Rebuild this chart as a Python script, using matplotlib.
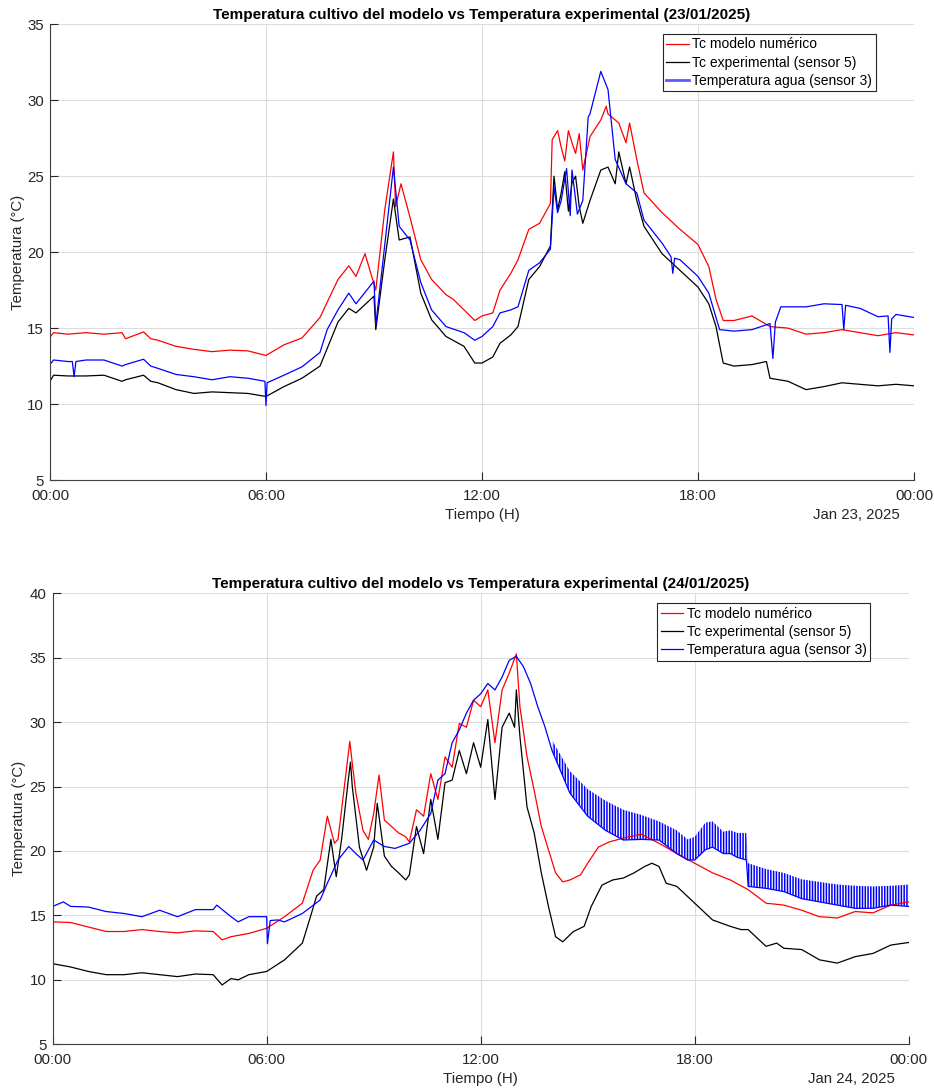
from matplotlib import pyplot as plt
from matplotlib.lines import Line2D

plt.rcParams['font.family'] = ['Liberation Sans', 'DejaVu Sans']
plt.rcParams['hatch.linewidth'] = 1.1

# ---------------- 23/01/2025 ----------------
# horas y temperaturas
t1_modelo = [0, 0.1, 0.5, 1.0, 1.5, 2.0, 2.1, 2.6, 2.8, 3.0, 3.5, 4.0, 4.5, 5.0, 5.5, 6.0,
             6.5, 7.0, 7.5, 8.0, 8.3, 8.5, 8.75, 9.05, 9.3, 9.54, 9.6, 9.75, 10.0, 10.3,
             10.6, 11.0, 11.2, 11.5, 11.8, 12.0, 12.3, 12.5, 12.8, 13.0, 13.3, 13.6, 13.9,
             13.95, 14.1, 14.2, 14.3, 14.4, 14.5, 14.6, 14.7, 14.8, 15.0, 15.3, 15.45, 15.5,
             15.8, 16.0, 16.1, 16.3, 16.5, 17.0, 17.5, 18.0, 18.3, 18.5, 18.7, 19.0, 19.5,
             20.0, 20.5, 21.0, 21.5, 22.0, 22.5, 23.0, 23.5, 24.0]
tc1_modelo = [14.4, 14.7, 14.6, 14.7, 14.6, 14.7, 14.3, 14.75, 14.3, 14.2, 13.8, 13.6, 13.45,
              13.55, 13.5, 13.2, 13.9, 14.35, 15.7, 18.2, 19.1, 18.4, 19.9, 17.5, 22.8,
              26.6, 23.0, 24.5, 22.3, 19.5, 18.2, 17.2, 16.9, 16.2, 15.5, 15.8, 16.0, 17.5,
              18.6, 19.5, 21.5, 21.9, 23.2, 27.4, 28.0, 26.9, 26.0, 28.0, 27.2, 26.5, 27.8,
              25.4, 27.6, 28.7, 29.6, 29.1, 28.5, 27.2, 28.5, 26.1, 23.9, 22.6, 21.5, 20.5,
              19.05, 16.9, 15.5, 15.5, 15.8, 15.1, 15.0, 14.6, 14.7, 14.9, 14.7, 14.5, 14.7,
              14.55]

t1_exp = [0, 0.1, 0.5, 1.0, 1.5, 2.0, 2.1, 2.6, 2.8, 3.0, 3.5, 4.0, 4.5, 5.0, 5.5, 6.0, 6.5,
          7.0, 7.5, 8.0, 8.3, 8.5, 9.0, 9.05, 9.3, 9.54, 9.7, 10.0, 10.3, 10.6, 11.0, 11.5,
          11.8, 12.0, 12.3, 12.5, 12.8, 13.0, 13.3, 13.6, 13.9, 14.0, 14.1, 14.2, 14.3,
          14.4, 14.5, 14.6, 14.7, 14.8, 15.0, 15.3, 15.5, 15.7, 15.8, 16.0, 16.1, 16.3,
          16.5, 17.0, 17.5, 18.0, 18.3, 18.5, 18.7, 19.0, 19.5, 19.9, 20.0, 20.5, 21.0,
          21.5, 22.0, 22.5, 23.0, 23.5, 24.0]
tc1_exp = [11.5, 11.9, 11.85, 11.85, 11.9, 11.5, 11.6, 11.9, 11.5, 11.4, 10.95, 10.7, 10.8,
           10.75, 10.7, 10.5, 11.15, 11.7, 12.5, 15.4, 16.3, 16.0, 17.1, 14.9, 19.5, 23.5,
           20.8, 21.0, 17.3, 15.55, 14.45, 13.8, 12.7, 12.7, 13.1, 14.0, 14.55, 15.1, 18.2,
           19.05, 20.4, 25.0, 22.8, 23.9, 25.3, 22.7, 24.55, 25.0, 23.0, 21.9, 23.4, 25.4,
           25.6, 24.5, 26.6, 24.5, 25.6, 23.4, 21.7, 19.9, 18.8, 17.7, 16.6, 15.1, 12.7,
           12.5, 12.6, 12.8, 11.7, 11.5, 10.95, 11.15, 11.4, 11.3, 11.2, 11.3, 11.2]

t1_agua = [0, 0.1, 0.5, 0.62, 0.67, 0.72, 1.0, 1.5, 2.0, 2.1, 2.6, 2.8, 3.0, 3.5, 4.0, 4.5,
           5.0, 5.5, 5.97, 6.0, 6.03, 6.5, 7.0, 7.5, 7.7, 8.0, 8.3, 8.5, 9.0, 9.05, 9.3,
           9.54, 9.7, 10.0, 10.3, 10.6, 11.0, 11.5, 11.8, 12.0, 12.3, 12.5, 12.8, 13.0,
           13.3, 13.6, 13.9, 14.0, 14.1, 14.2, 14.35, 14.45, 14.5, 14.65, 14.8, 14.95, 15.0,
           15.3, 15.5, 15.7, 16.0, 16.3, 16.5, 17.0, 17.25, 17.3, 17.35, 17.5, 18.0, 18.3,
           18.6, 19.0, 19.5, 20.0, 20.08, 20.15, 20.3, 21.0, 21.5, 22.0, 22.05, 22.1, 22.5,
           23.0, 23.28, 23.33, 23.38, 23.5, 24.0]
tc1_agua = [12.6, 12.9, 12.8, 12.8, 11.8, 12.8, 12.9, 12.9, 12.5, 12.6, 12.95, 12.5, 12.35,
            11.95, 11.8, 11.6, 11.8, 11.7, 11.5, 9.9, 11.4, 11.9, 12.45, 13.4, 14.9, 16.2,
            17.3, 16.6, 18.1, 15.2, 20.5, 25.6, 21.7, 20.8, 18.0, 16.2, 15.1, 14.7, 14.2,
            14.45, 15.1, 16.0, 16.2, 16.4, 18.8, 19.3, 20.2, 24.3, 22.6, 23.4, 25.5, 22.4,
            25.4, 22.5, 23.4, 28.9, 29.1, 31.9, 30.7, 26.1, 24.5, 23.9, 22.1, 20.6, 19.7,
            18.6, 19.6, 19.5, 18.4, 17.3, 14.9, 14.8, 14.9, 15.3, 13.0, 15.4, 16.4, 16.4,
            16.6, 16.55, 14.9, 16.5, 16.3, 15.75, 15.8, 13.4, 15.6, 15.9, 15.7]

# ---------------- 24/01/2025 ----------------
t2_modelo = [0, 0.5, 1.0, 1.5, 2.0, 2.5, 3.0, 3.5, 4.0, 4.5, 4.75, 5.0, 5.5, 6.0, 6.5, 7.0,
             7.3, 7.5, 7.7, 7.9, 8.0, 8.2, 8.33, 8.4, 8.5, 8.7, 8.85, 9.0, 9.15, 9.3, 9.5,
             9.7, 9.9, 10.0, 10.2, 10.4, 10.6, 10.8, 11.0, 11.2, 11.4, 11.6, 11.8, 12.0,
             12.2, 12.4, 12.6, 12.8, 13.0, 13.1, 13.3, 13.5, 13.7, 13.9, 14.1, 14.3, 14.5,
             14.8, 15.0, 15.3, 15.6, 16.0, 16.5, 17.0, 17.5, 18.0, 18.5, 19.0, 19.5, 20.0,
             20.5, 21.0, 21.5, 22.0, 22.5, 23.0, 23.5, 24.0]
tc2_modelo = [14.5, 14.45, 14.1, 13.75, 13.75, 13.9, 13.75, 13.65, 13.8, 13.75, 13.1, 13.35,
              13.6, 14.0, 14.9, 15.95, 18.5, 19.3, 22.7, 20.6, 20.9, 25.5, 28.5, 26.8, 24.5,
              21.6, 20.9, 22.9, 25.9, 22.4, 21.9, 21.4, 21.1, 20.7, 23.2, 22.7, 26.0, 24.0,
              27.3, 26.5, 29.9, 29.6, 31.7, 31.2, 32.5, 28.4, 32.5, 33.8, 35.3, 31.2, 27.3,
              24.7, 21.9, 20.1, 18.3, 17.6, 17.75, 18.15, 19.05, 20.3, 20.7, 21.0, 21.3,
              20.6, 19.8, 19.05, 18.3, 17.75, 17.0, 15.95, 15.8, 15.4, 14.9, 14.8, 15.3,
              15.2, 15.8, 16.05]

t2_exp = [0, 0.5, 1.0, 1.5, 2.0, 2.5, 3.0, 3.5, 4.0, 4.5, 4.75, 5.0, 5.2, 5.5, 6.0, 6.5, 7.0,
          7.2, 7.4, 7.6, 7.8, 7.95, 8.1, 8.3, 8.35, 8.4, 8.6, 8.8, 9.0, 9.1, 9.3, 9.5, 9.7,
          9.9, 10.0, 10.2, 10.4, 10.6, 10.8, 11.0, 11.2, 11.4, 11.6, 11.8, 12.0, 12.2, 12.4,
          12.6, 12.8, 12.95, 13.0, 13.1, 13.3, 13.5, 13.7, 13.9, 14.1, 14.3, 14.6, 14.9,
          15.1, 15.4, 15.7, 16.0, 16.3, 16.6, 16.8, 17.0, 17.2, 17.5, 18.0, 18.5, 19.0,
          19.3, 19.5, 20.0, 20.3, 20.5, 21.0, 21.5, 22.0, 22.5, 23.0, 23.5, 24.0]
tc2_exp = [11.25, 11.0, 10.65, 10.4, 10.4, 10.55, 10.4, 10.25, 10.45, 10.4, 9.6, 10.1, 10.0,
           10.4, 10.65, 11.55, 12.85, 14.65, 16.5, 17.0, 20.9, 18.0, 20.9, 25.8, 26.9, 25.0,
           20.3, 18.5, 20.3, 23.7, 19.6, 18.8, 18.3, 17.75, 18.15, 21.9, 19.8, 24.0, 20.9,
           25.3, 25.5, 27.8, 26.0, 28.4, 26.5, 30.2, 24.0, 29.6, 30.7, 29.6, 32.5, 28.9,
           23.4, 21.4, 18.3, 15.7, 13.35, 12.95, 13.75, 14.15, 15.7, 17.35, 17.75, 17.9,
           18.3, 18.8, 19.05, 18.8, 17.5, 17.25, 15.95, 14.65, 14.15, 13.9, 13.9, 12.6,
           12.85, 12.45, 12.35, 11.55, 11.3, 11.8, 12.05, 12.7, 12.9]

t2_agua = [0, 0.3, 0.5, 1.0, 1.5, 2.0, 2.5, 3.0, 3.5, 4.0, 4.5, 4.6, 5.0, 5.2, 5.5, 6.0,
           6.02, 6.1, 6.3, 6.5, 7.0, 7.5, 7.7, 8.0, 8.3, 8.5, 8.7, 9.0, 9.3, 9.6, 10.0,
           10.3, 10.6, 10.8, 11.0, 11.2, 11.4, 11.6, 11.8, 12.0, 12.2, 12.4, 12.6, 12.8,
           13.0, 13.2, 13.4, 13.6, 13.8, 14.0, 14.5, 15.0, 15.5, 16.0, 16.5, 17.0, 17.5,
           17.8, 18.0, 18.3, 18.5, 18.8, 19.0, 19.2, 19.45, 19.5, 20.0, 20.5, 21.0, 21.5,
           22.0, 22.5, 23.0, 23.5, 24.0]
tc2_agua = [15.7, 16.05, 15.7, 15.65, 15.3, 15.15, 14.9, 15.4, 14.9, 15.45, 15.45, 15.8,
            14.9, 14.5, 14.9, 14.9, 12.8, 14.6, 14.65, 14.5, 15.15, 16.2, 17.5, 19.3, 20.35,
            19.8, 19.3, 20.85, 20.35, 20.2, 20.6, 21.6, 22.9, 25.5, 26.0, 28.4, 29.4, 30.7,
            31.7, 32.2, 33.0, 32.5, 33.5, 34.8, 35.1, 34.3, 33.0, 31.2, 29.65, 27.8, 24.5,
            22.7, 21.6, 20.85, 20.9, 20.85, 19.8, 19.3, 19.3, 20.1, 20.3, 19.8, 19.8, 19.5,
            19.3, 17.25, 17.1, 16.85, 16.3, 16.05, 15.8, 15.55, 15.55, 15.8, 15.7]

# picos de la oscilacion del sensor 3 (a partir de las 14h)
t2_osc = [14.0, 14.5, 15.0, 15.5, 16.0, 16.5, 17.0, 17.5, 17.8, 18.0, 18.3, 18.5, 18.8,
          19.0, 19.2, 19.45, 19.5, 20.0, 20.5, 21.0, 21.5, 22.0, 22.5, 23.0, 23.5, 24.0]
tc2_osc_bajo = [27.8, 24.5, 22.7, 21.6, 20.85, 20.9, 20.85, 19.8, 19.3, 19.3, 20.1, 20.3,
                19.8, 19.8, 19.5, 19.3, 17.25, 17.1, 16.85, 16.3, 16.05, 15.8, 15.55, 15.55,
                15.8, 15.7]
tc2_osc_alto = [28.6, 26.2, 24.8, 23.9, 23.2, 22.8, 22.3, 21.6, 20.9, 21.1, 22.2, 22.3,
                21.5, 21.6, 21.4, 21.4, 19.05, 18.6, 18.3, 17.8, 17.6, 17.4, 17.3, 17.25,
                17.3, 17.4]

xticks = [0, 6, 12, 18, 24]
xlabels = ['00:00', '06:00', '12:00', '18:00', '00:00']
gris = '#262626'

fig = plt.figure(figsize=(9.34, 10.88), dpi=100)
ax1 = fig.add_axes([0.0535, 0.5588, 0.9251, 0.4189])
ax2 = fig.add_axes([0.0564, 0.0402, 0.9165, 0.4145])

ax1.plot(t1_modelo, tc1_modelo, color='red', lw=0.9)
ax1.plot(t1_exp, tc1_exp, color='black', lw=0.9)
ax1.plot(t1_agua, tc1_agua, color='blue', lw=0.9)

ax2.plot(t2_modelo, tc2_modelo, color='red', lw=0.9)
ax2.plot(t2_exp, tc2_exp, color='black', lw=0.9)
ax2.plot(t2_agua, tc2_agua, color='blue', lw=0.9)
ax2.fill_between(t2_osc, tc2_osc_bajo, tc2_osc_alto, facecolor='none', edgecolor='blue',
                 hatch='||||||', linewidth=0)

for ax, ymax, fecha, titulo in [(ax1, 35, 'Jan 23, 2025', '23/01/2025'),
                                 (ax2, 40, 'Jan 24, 2025', '24/01/2025')]:
    ax.set_xlim(0, 24)
    ax.set_ylim(5, ymax)
    ax.set_xticks(xticks)
    ax.set_xticklabels(xlabels)
    ax.set_yticks(range(5, ymax + 1, 5))
    ax.tick_params(direction='in', length=6, width=0.8, colors=gris, labelsize=10.8)
    ax.tick_params(axis='x', pad=6.5)
    ax.tick_params(axis='y', pad=4.5)
    ax.grid(True, color='#dcdcdc', lw=0.8)
    ax.set_axisbelow(True)
    for s in ['top', 'right']:
        ax.spines[s].set_visible(False)
    for s in ['left', 'bottom']:
        ax.spines[s].set_color('#404040')
        ax.spines[s].set_linewidth(0.8)
    ax.set_title('Temperatura cultivo del modelo vs Temperatura experimental (' + titulo + ')',
                 fontsize=11, fontweight='bold', pad=4)
    ax.set_ylabel('Temperatura (°C)', fontsize=10.8, color=gris)
    ax.text(0.5, -0.077, 'Tiempo (H)', transform=ax.transAxes, ha='center', va='center',
            fontsize=10.8, color=gris)
    ax.text(0.984, -0.077, fecha, transform=ax.transAxes, ha='right', va='center',
            fontsize=10.8, color=gris)

ax1.yaxis.set_label_coords(-0.029, 0.5)
ax2.yaxis.set_label_coords(-0.031, 0.5)

nombres = ['Tc modelo numérico', 'Tc experimental (sensor 5)', 'Temperatura agua (sensor 3)']

h1 = [Line2D([], [], color='red', lw=0.9), Line2D([], [], color='black', lw=0.9),
      Line2D([], [], color='#5a5aff', lw=2)]
h2 = [Line2D([], [], color='red', lw=0.9), Line2D([], [], color='black', lw=0.9),
      Line2D([], [], color='blue', lw=0.9)]

for ax, h, bx, by in [(ax1, h1, 0.9557, 0.9787), (ax2, h2, 0.9551, 0.9778)]:
    leg = ax.legend(h, nombres, loc='upper right', bbox_to_anchor=(bx, by), borderaxespad=0,
                    fontsize=10, fancybox=False, framealpha=1, edgecolor='#262626',
                    handlelength=1.65, handletextpad=0.25, labelspacing=0.3, borderpad=0.25)
    leg.get_frame().set_linewidth(0.8)

plt.savefig('out.png', dpi=100)
